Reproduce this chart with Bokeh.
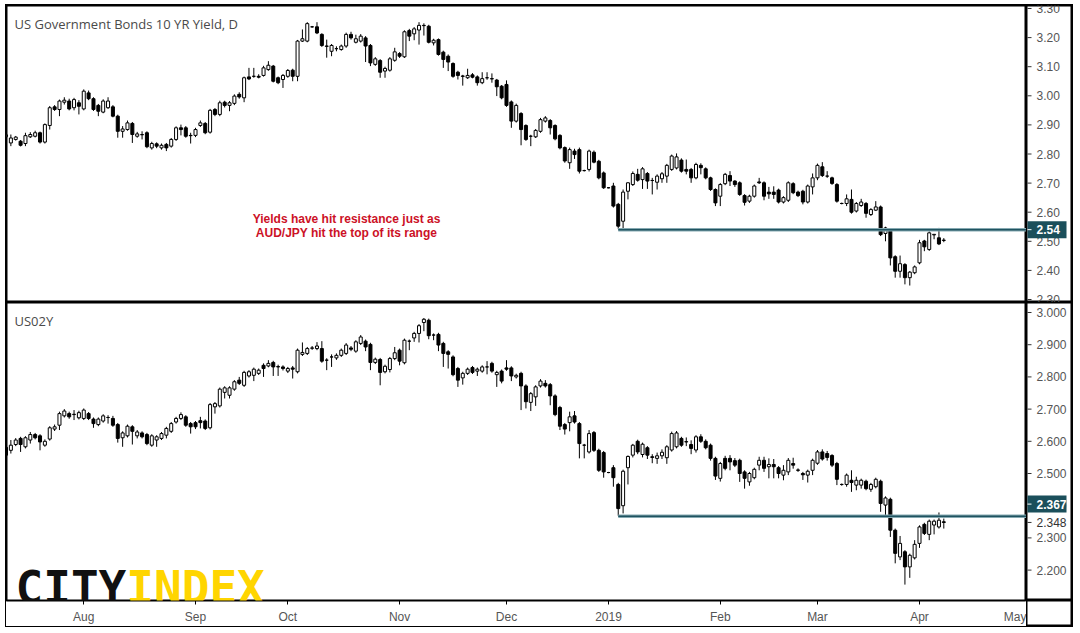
import pandas as pd
from bokeh.plotting import figure
from bokeh.layouts import column, row
from bokeh.models import ColumnDataSource, FixedTicker, Label, Range1d, LinearAxis
from bokeh.core.properties import value
from bokeh.embed import file_html
from bokeh.resources import INLINE

# ---------------- data ----------------
all_days = pd.bdate_range("2018-07-10", "2019-04-08")
dates = [d for d in all_days if d != pd.Timestamp("2018-09-03")]
future_days = list(pd.bdate_range("2019-04-09", "2019-05-01"))

us10_open = [2.859,2.838,2.850,2.844,2.836,2.859,2.861,2.873,2.841,2.898,2.962,2.953,2.978,2.982,2.959,2.976,2.955,3.010,2.990,2.967,
2.944,2.959,2.962,2.930,2.878,2.884,2.905,2.861,2.866,2.873,2.821,2.835,2.821,2.833,2.827,2.850,2.890,2.890,2.864,2.864,
2.898,2.905,2.875,2.953,2.936,2.978,2.967,2.974,3.005,2.993,3.065,3.067,3.067,3.070,3.090,3.102,3.062,3.056,3.067,3.088,
3.067,3.188,3.188,3.237,3.237,3.211,3.171,3.153,3.162,3.159,3.171,3.211,3.184,3.188,3.199,3.173,3.108,3.121,3.085,3.088,
3.122,3.145,3.134,3.224,3.213,3.226,3.242,3.239,3.182,3.193,3.150,3.136,3.111,3.081,3.068,3.062,3.072,3.065,3.045,3.062,
3.059,3.054,3.033,3.039,2.979,2.913,2.939,2.898,2.861,2.859,2.878,2.913,2.915,2.898,2.864,2.822,2.770,2.810,2.815,2.743,
2.747,2.806,2.775,2.735,2.684,2.690,2.627,2.569,2.672,2.695,2.730,2.712,2.733,2.709,2.703,2.715,2.724,2.747,2.752,2.779,
2.747,2.747,2.718,2.761,2.749,2.718,2.678,2.655,2.698,2.726,2.707,2.701,2.657,2.638,2.655,2.704,2.701,2.669,2.669,2.676,
2.635,2.641,2.698,2.669,2.672,2.635,2.687,2.718,2.756,2.724,2.718,2.695,2.630,2.630,2.644,2.604,2.623,2.630,2.592,2.607,
2.618,2.527,2.535,2.447,2.397,2.420,2.375,2.392,2.426,2.501,2.472,2.522,2.512,2.504]
us10_high = [2.870,2.867,2.862,2.848,2.873,2.875,2.880,2.877,2.905,2.965,2.968,2.987,2.995,2.990,2.993,2.985,3.022,3.018,2.995,2.972,
2.988,2.995,2.968,2.935,2.896,2.915,2.910,2.876,2.878,2.878,2.842,2.840,2.836,2.838,2.855,2.895,2.901,2.896,2.873,2.890,
2.915,2.910,2.955,2.958,2.983,2.983,2.982,3.005,3.012,3.066,3.096,3.096,3.074,3.103,3.119,3.106,3.066,3.075,3.092,3.093,
3.192,3.228,3.253,3.240,3.253,3.215,3.193,3.178,3.170,3.176,3.217,3.220,3.210,3.212,3.205,3.178,3.133,3.126,3.100,3.133,
3.165,3.150,3.225,3.230,3.236,3.253,3.249,3.244,3.196,3.197,3.155,3.142,3.115,3.086,3.072,3.093,3.078,3.070,3.081,3.081,
3.077,3.058,3.037,3.053,2.984,2.973,2.944,2.902,2.866,2.886,2.924,2.930,2.920,2.902,2.868,2.826,2.822,2.818,2.822,2.746,
2.815,2.812,2.780,2.740,2.686,2.701,2.632,2.678,2.703,2.740,2.749,2.755,2.738,2.718,2.730,2.738,2.766,2.798,2.802,2.785,
2.781,2.752,2.770,2.768,2.754,2.722,2.682,2.700,2.735,2.741,2.710,2.706,2.662,2.660,2.695,2.718,2.706,2.687,2.689,2.681,
2.655,2.706,2.703,2.674,2.677,2.695,2.733,2.767,2.772,2.741,2.722,2.700,2.633,2.661,2.678,2.635,2.646,2.635,2.614,2.638,
2.623,2.550,2.540,2.452,2.451,2.425,2.398,2.417,2.505,2.505,2.534,2.525,2.546,2.511]
us10_low = [2.855,2.827,2.846,2.826,2.827,2.855,2.857,2.836,2.836,2.884,2.948,2.930,2.970,2.950,2.950,2.936,2.950,2.985,2.948,2.930,
2.940,2.955,2.926,2.856,2.856,2.880,2.838,2.856,2.850,2.820,2.815,2.820,2.815,2.810,2.822,2.845,2.864,2.856,2.836,2.858,
2.893,2.868,2.870,2.930,2.930,2.960,2.947,2.968,2.990,2.978,3.054,3.062,3.060,3.066,3.086,3.046,3.040,3.027,3.062,3.050,
3.050,3.185,3.184,3.234,3.212,3.168,3.131,3.136,3.153,3.155,3.165,3.193,3.180,3.183,3.116,3.102,3.103,3.062,3.062,3.083,
3.117,3.130,3.130,3.188,3.191,3.176,3.207,3.180,3.173,3.138,3.096,3.085,3.062,3.056,3.035,3.058,3.060,3.035,3.040,3.055,
3.045,2.999,2.988,2.962,2.890,2.908,2.830,2.845,2.827,2.855,2.873,2.908,2.867,2.847,2.816,2.770,2.749,2.783,2.733,2.740,
2.740,2.768,2.713,2.680,2.682,2.616,2.543,2.541,2.644,2.690,2.705,2.680,2.680,2.661,2.678,2.701,2.701,2.742,2.747,2.736,
2.730,2.701,2.713,2.730,2.713,2.673,2.621,2.621,2.693,2.690,2.687,2.656,2.623,2.632,2.650,2.697,2.641,2.646,2.646,2.630,
2.630,2.635,2.662,2.652,2.627,2.630,2.661,2.710,2.721,2.718,2.694,2.633,2.627,2.621,2.595,2.599,2.618,2.581,2.587,2.604,
2.518,2.500,2.417,2.375,2.375,2.352,2.348,2.387,2.421,2.466,2.467,2.507,2.487,2.497]
us10_close = [2.866,2.855,2.858,2.830,2.863,2.867,2.873,2.841,2.901,2.959,2.953,2.982,2.985,2.955,2.987,2.964,3.016,2.990,2.953,2.947,
2.982,2.982,2.930,2.878,2.886,2.907,2.867,2.869,2.867,2.825,2.836,2.827,2.830,2.821,2.850,2.890,2.884,2.861,2.863,2.884,
2.907,2.873,2.950,2.936,2.976,2.967,2.976,2.999,2.996,3.062,3.058,3.067,3.064,3.096,3.105,3.050,3.045,3.070,3.087,3.067,
3.188,3.196,3.248,3.237,3.216,3.173,3.170,3.173,3.162,3.171,3.211,3.199,3.196,3.205,3.171,3.113,3.127,3.081,3.094,3.127,
3.151,3.136,3.220,3.205,3.230,3.242,3.241,3.184,3.191,3.142,3.125,3.116,3.067,3.070,3.067,3.070,3.064,3.045,3.059,3.062,
3.058,3.031,2.993,2.967,2.913,2.967,2.884,2.850,2.861,2.881,2.918,2.924,2.890,2.852,2.821,2.776,2.815,2.798,2.741,2.743,
2.810,2.772,2.718,2.684,2.684,2.621,2.552,2.669,2.701,2.733,2.710,2.749,2.707,2.709,2.724,2.732,2.761,2.793,2.790,2.741,
2.741,2.718,2.764,2.753,2.718,2.678,2.632,2.695,2.730,2.707,2.695,2.661,2.634,2.655,2.690,2.701,2.655,2.663,2.661,2.635,
2.650,2.701,2.667,2.657,2.635,2.690,2.718,2.761,2.726,2.724,2.699,2.638,2.630,2.646,2.600,2.630,2.635,2.596,2.609,2.618,
2.523,2.546,2.443,2.397,2.423,2.375,2.394,2.412,2.495,2.481,2.529,2.524,2.491,2.503]

us02_open = [2.581,2.572,2.590,2.609,2.583,2.604,2.621,2.617,2.588,2.607,2.638,2.650,2.679,2.686,2.683,2.673,2.671,2.686,2.669,2.652,
2.663,2.674,2.671,2.652,2.611,2.617,2.645,2.617,2.626,2.621,2.588,2.604,2.609,2.619,2.631,2.660,2.671,2.676,2.655,2.658,
2.664,2.663,2.642,2.707,2.710,2.752,2.743,2.762,2.790,2.774,2.803,2.805,2.811,2.836,2.834,2.845,2.832,2.831,2.818,2.828,
2.816,2.870,2.873,2.889,2.888,2.888,2.852,2.862,2.859,2.867,2.873,2.890,2.880,2.904,2.911,2.901,2.845,2.854,2.816,2.823,
2.857,2.883,2.844,2.911,2.921,2.935,2.969,2.976,2.930,2.932,2.904,2.878,2.862,2.826,2.797,2.811,2.829,2.818,2.818,2.831,
2.842,2.807,2.818,2.828,2.828,2.800,2.811,2.772,2.721,2.738,2.772,2.780,2.776,2.741,2.705,2.652,2.658,2.679,2.655,2.588,
2.567,2.627,2.572,2.565,2.503,2.518,2.466,2.400,2.518,2.557,2.600,2.559,2.580,2.552,2.547,2.555,2.549,2.573,2.583,2.609,
2.599,2.590,2.573,2.614,2.600,2.588,2.547,2.485,2.547,2.547,2.540,2.541,2.505,2.474,2.487,2.526,2.541,2.521,2.528,2.518,
2.495,2.505,2.531,2.511,2.500,2.495,2.510,2.532,2.567,2.562,2.556,2.531,2.466,2.466,2.479,2.464,2.464,2.476,2.451,2.459,
2.476,2.402,2.420,2.324,2.241,2.257,2.210,2.238,2.283,2.342,2.311,2.340,2.334,2.350]
us02_high = [2.585,2.604,2.610,2.614,2.616,2.629,2.626,2.622,2.606,2.647,2.652,2.692,2.700,2.692,2.697,2.695,2.702,2.691,2.674,2.674,
2.684,2.681,2.679,2.657,2.631,2.652,2.650,2.635,2.631,2.626,2.622,2.619,2.629,2.645,2.660,2.676,2.690,2.681,2.660,2.663,
2.676,2.668,2.719,2.722,2.767,2.771,2.771,2.790,2.800,2.819,2.821,2.829,2.826,2.842,2.852,2.850,2.838,2.836,2.831,2.834,
2.888,2.907,2.893,2.896,2.908,2.911,2.858,2.870,2.873,2.888,2.905,2.896,2.914,2.930,2.916,2.906,2.860,2.859,2.838,2.862,
2.893,2.888,2.919,2.916,2.940,2.964,2.983,2.981,2.935,2.937,2.909,2.883,2.867,2.831,2.816,2.829,2.834,2.829,2.836,2.849,
2.847,2.819,2.823,2.852,2.833,2.810,2.816,2.777,2.753,2.774,2.793,2.790,2.781,2.746,2.710,2.657,2.692,2.694,2.660,2.592,
2.635,2.632,2.577,2.570,2.505,2.526,2.471,2.512,2.556,2.592,2.605,2.596,2.585,2.560,2.565,2.575,2.588,2.630,2.632,2.614,
2.612,2.603,2.619,2.622,2.606,2.593,2.552,2.536,2.555,2.557,2.548,2.546,2.510,2.505,2.518,2.552,2.552,2.547,2.545,2.523,
2.526,2.548,2.549,2.516,2.505,2.512,2.546,2.573,2.575,2.570,2.560,2.536,2.469,2.500,2.510,2.490,2.484,2.481,2.471,2.487,
2.481,2.429,2.425,2.329,2.306,2.262,2.251,2.293,2.339,2.347,2.357,2.357,2.379,2.360]
us02_low = [2.550,2.562,2.585,2.567,2.578,2.593,2.606,2.572,2.583,2.602,2.632,2.635,2.674,2.670,2.666,2.668,2.666,2.666,2.642,2.647,
2.658,2.655,2.645,2.596,2.583,2.612,2.590,2.609,2.609,2.588,2.583,2.583,2.604,2.609,2.626,2.655,2.666,2.645,2.624,2.638,
2.640,2.635,2.637,2.686,2.705,2.733,2.733,2.757,2.775,2.769,2.798,2.787,2.806,2.800,2.830,2.803,2.803,2.820,2.812,2.795,
2.811,2.865,2.868,2.884,2.883,2.844,2.821,2.831,2.853,2.862,2.868,2.880,2.875,2.899,2.880,2.821,2.840,2.774,2.811,2.814,
2.852,2.836,2.839,2.883,2.909,2.907,2.942,2.917,2.914,2.880,2.831,2.826,2.802,2.769,2.776,2.806,2.809,2.803,2.813,2.808,
2.813,2.769,2.780,2.819,2.787,2.795,2.697,2.702,2.694,2.710,2.767,2.767,2.712,2.678,2.635,2.621,2.631,2.655,2.547,2.547,
2.562,2.567,2.505,2.487,2.501,2.459,2.369,2.376,2.466,2.550,2.560,2.550,2.545,2.532,2.530,2.545,2.530,2.568,2.578,2.583,
2.585,2.560,2.565,2.595,2.575,2.540,2.480,2.475,2.510,2.510,2.520,2.474,2.453,2.462,2.482,2.510,2.505,2.485,2.485,2.485,
2.479,2.495,2.515,2.505,2.480,2.472,2.495,2.527,2.540,2.540,2.520,2.464,2.462,2.459,2.443,2.448,2.453,2.448,2.443,2.454,
2.381,2.371,2.303,2.221,2.231,2.155,2.176,2.233,2.269,2.309,2.293,2.311,2.329,2.329]
us02_close = [2.557,2.588,2.604,2.590,2.611,2.621,2.611,2.598,2.600,2.642,2.645,2.686,2.694,2.676,2.684,2.689,2.697,2.671,2.655,2.669,
2.679,2.674,2.650,2.609,2.626,2.647,2.631,2.629,2.614,2.593,2.617,2.614,2.624,2.640,2.655,2.671,2.683,2.650,2.645,2.645,
2.658,2.640,2.714,2.717,2.762,2.766,2.766,2.785,2.780,2.814,2.816,2.824,2.821,2.826,2.842,2.831,2.831,2.826,2.826,2.824,
2.883,2.876,2.888,2.890,2.896,2.849,2.852,2.862,2.867,2.883,2.899,2.886,2.909,2.924,2.893,2.845,2.855,2.814,2.833,2.857,
2.875,2.849,2.914,2.911,2.935,2.959,2.979,2.928,2.930,2.899,2.873,2.870,2.807,2.790,2.811,2.824,2.814,2.824,2.831,2.831,
2.818,2.814,2.787,2.824,2.803,2.805,2.772,2.723,2.748,2.769,2.787,2.772,2.741,2.683,2.647,2.638,2.676,2.660,2.593,2.588,
2.624,2.572,2.510,2.505,2.503,2.487,2.391,2.507,2.553,2.588,2.567,2.591,2.557,2.550,2.555,2.566,2.583,2.624,2.626,2.588,
2.598,2.578,2.614,2.600,2.580,2.547,2.492,2.531,2.516,2.536,2.526,2.500,2.485,2.500,2.513,2.541,2.516,2.528,2.521,2.500,
2.510,2.541,2.526,2.510,2.496,2.507,2.541,2.567,2.545,2.550,2.526,2.482,2.466,2.495,2.472,2.479,2.479,2.453,2.466,2.482,
2.407,2.424,2.324,2.252,2.283,2.210,2.246,2.280,2.334,2.314,2.352,2.352,2.355,2.348]

us10_level = 2.54
us02_level = 2.367
level_start = pd.Timestamp("2019-01-03")

us10_ticks = [2.30, 2.40, 2.50, 2.60, 2.70, 2.80, 2.90, 3.00, 3.10, 3.20, 3.30]
us02_ticks = [2.20, 2.30, 2.40, 2.50, 2.60, 2.70, 2.80, 2.90, 3.00]

# month ticks: index of first trading day of each month (incl. the empty space to the right)
calendar = dates + future_days
month_idx, month_lab = [], []
for i, d in enumerate(calendar):
    if i > 0 and d.month != calendar[i - 1].month:
        month_idx.append(i)
        month_lab.append(str(d.year) if d.month == 1 else d.strftime("%b"))

start_i = dates.index(level_start)

# ---------------- styling ----------------
MAIN_W = 1020
SCALE_W = 46
XR = Range1d(0.1, 210.02)
AXIS_FONT = "Liberation Sans"
GRAY = "#555555"
TEAL = "#1b4f5b"


def base_fig(width, height, x_range, y_range, bottom=0):
    f = figure(width=width, height=height, x_range=x_range, y_range=y_range,
               output_backend="svg", toolbar_location=None,
               x_axis_location=None, y_axis_location=None,
               min_border_left=0, min_border_right=0, min_border_top=0, min_border_bottom=bottom)
    f.grid.visible = False
    f.outline_line_color = "black"
    f.outline_line_width = 2
    f.background_fill_color = "white"
    f.border_fill_color = "white"
    return f


def candles(p, o, h, l, c):
    src = ColumnDataSource(dict(
        x=list(range(len(o))), h=h, l=l,
        top=[max(a, b) for a, b in zip(o, c)],
        bottom=[min(a, b) for a, b in zip(o, c)],
        fill=["white" if cc >= oo else "black" for oo, cc in zip(o, c)],
    ))
    p.segment(x0="x", y0="h", x1="x", y1="l", source=src, line_color="black", line_width=1)
    p.vbar(x="x", width=0.62, top="top", bottom="bottom", source=src,
           fill_color="fill", line_color="black", line_width=1)


def level_line(p, lvl):
    src = ColumnDataSource(dict(x0=[start_i], x1=[XR.end], y=[lvl]))
    p.segment(x0="x0", y0="y", x1="x1", y1="y", source=src, line_color="#86a9b1", line_width=3.5)
    p.segment(x0="x0", y0="y", x1="x1", y1="y", source=src, line_color="#1f5360", line_width=1.5)


def price_scale(q, ticks, fmt):
    src = ColumnDataSource(dict(y=ticks, lab=[fmt.format(t) for t in ticks]))
    q.segment(x0=1, y0="y", x1=5, y1="y", source=src, line_color="#333333", line_width=1)
    q.text(x=10, y="y", text="lab", source=src, text_font=value(AXIS_FONT),
           text_font_size="12px", text_color=GRAY, text_baseline="middle", text_align="left")


def price_box(q, y_box, txt):
    q.rect(x=20.5, y=y_box, width=39, height=17, height_units="screen",
           fill_color=TEAL, line_color=None)
    q.segment(x0=1, y0=y_box, x1=5, y1=y_box, line_color="white", line_width=1)
    q.text(x=10, y=y_box, text=[txt], text_font=value(AXIS_FONT), text_font_style="bold",
           text_font_size="12px", text_color="white", text_baseline="middle", text_align="left")


# ---------------- top panel ----------------
yr1 = Range1d(2.2897, 3.3103)
p1 = base_fig(MAIN_W, 297, XR, yr1)
candles(p1, us10_open, us10_high, us10_low, us10_close)
level_line(p1, us10_level)
p1.add_layout(Label(x=8, y=279, x_units="screen", y_units="screen",
                    text="US Government Bonds 10 YR Yield, D", text_font="Open Sans",
                    text_font_size="13px", text_color="#4a4a4a", text_baseline="middle"))
p1.add_layout(Label(x=340, y=84, x_units="screen", y_units="screen",
                    text="Yields have hit resistance just as", text_font="Liberation Sans",
                    text_font_style="bold", text_font_size="12px", text_color="#cc1126",
                    text_align="center", text_baseline="middle"))
p1.add_layout(Label(x=340, y=70, x_units="screen", y_units="screen",
                    text="AUD/JPY hit the top of its range", text_font="Liberation Sans",
                    text_font_style="bold", text_font_size="12px", text_color="#cc1126",
                    text_align="center", text_baseline="middle"))

q1 = base_fig(SCALE_W, 297, Range1d(0, SCALE_W), yr1)
price_scale(q1, us10_ticks, "{:.2f}")
price_box(q1, us10_level, f"{us10_level:.2f}")

# ---------------- bottom panel ----------------
yr2 = Range1d(2.1056, 3.0311)
p2 = base_fig(MAIN_W, 324, XR, yr2, bottom=26)
xa = LinearAxis()
xa.ticker = FixedTicker(ticks=month_idx)
xa.major_label_overrides = {i: lab for i, lab in zip(month_idx, month_lab)}
xa.axis_line_color = None
xa.major_tick_line_color = "black"
xa.major_tick_in = 0
xa.major_tick_out = 4
xa.minor_tick_line_color = None
xa.major_label_text_font = AXIS_FONT
xa.major_label_text_font_size = "12px"
xa.major_label_text_color = GRAY
xa.major_label_standoff = 5
p2.add_layout(xa, "below")

candles(p2, us02_open, us02_high, us02_low, us02_close)
level_line(p2, us02_level)
p2.add_layout(Label(x=8, y=280, x_units="screen", y_units="screen",
                    text="US02Y", text_font="Open Sans",
                    text_font_size="13px", text_color="#4a4a4a", text_baseline="middle"))
p2.add_layout(Label(x=9, y=13, x_units="screen", y_units="screen", text="CITY",
                    text_font="DejaVu Sans Mono", text_font_style="bold",
                    text_font_size="46px", text_color="#111111", text_baseline="alphabetic"))
p2.add_layout(Label(x=119.8, y=13, x_units="screen", y_units="screen", text="INDEX",
                    text_font="DejaVu Sans Mono", text_font_style="bold",
                    text_font_size="46px", text_color="#ffd500", text_baseline="alphabetic"))

q2 = base_fig(SCALE_W, 298, Range1d(0, SCALE_W), yr2)
price_scale(q2, us02_ticks, "{:.3f}")
last_src = ColumnDataSource(dict(y=[us02_close[-1]], lab=[f"{us02_close[-1]:.3f}"]))
q2.segment(x0=1, y0="y", x1=5, y1="y", source=last_src, line_color="#333333")
q2.text(x=10, y="y", text="lab", source=last_src, text_font=value(AXIS_FONT),
        text_font_size="12px", text_color="#333333", text_baseline="middle")
price_box(q2, us02_level + 0.038, f"{us02_level:.3f}")

# empty corner cell below the price scale (x-axis row)
q3 = base_fig(SCALE_W, 26, Range1d(0, 1), Range1d(0, 1))
q3.scatter(x=[0.5], y=[0.5], size=0, alpha=0)

layout = column(row(p1, q1), row(p2, column(q2, q3)),
                styles={"border": "1px solid black"}, margin=(4, 0, 0, 5))

open("out.html", "w").write(file_html(layout, INLINE))
